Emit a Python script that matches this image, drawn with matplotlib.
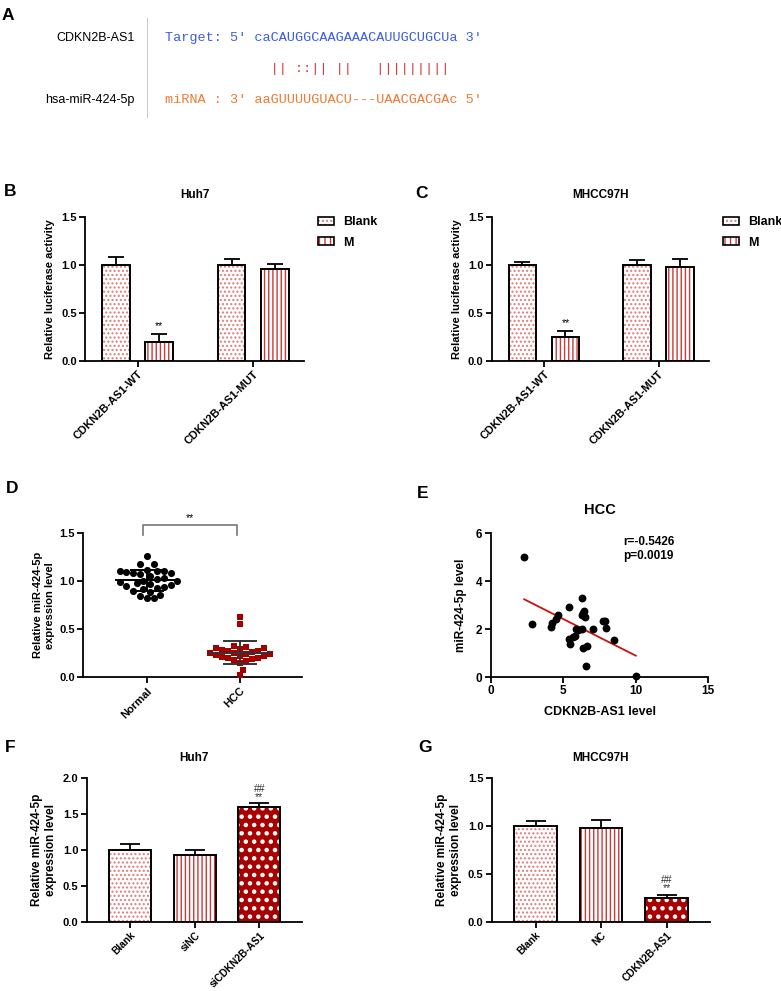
import numpy as np
import matplotlib
matplotlib.use("Agg")
import matplotlib.pyplot as plt
from matplotlib.patches import Patch
from matplotlib.legend_handler import HandlerTuple

plt.rcParams['font.family'] = ['Liberation Sans', 'DejaVu Sans']
plt.rcParams['font.weight'] = 'bold'
plt.rcParams['axes.labelweight'] = 'bold'
plt.rcParams['axes.titleweight'] = 'bold'
plt.rcParams['axes.linewidth'] = 1.3
plt.rcParams['xtick.major.width'] = 1.3
plt.rcParams['ytick.major.width'] = 1.3
plt.rcParams['xtick.major.size'] = 4
plt.rcParams['ytick.major.size'] = 4
plt.rcParams['hatch.linewidth'] = 1.0

# ---- A: binding site ----
gene_name = "CDKN2B-AS1"
mirna_name = "hsa-miR-424-5p"
target_line = "Target: 5' caCAUGGCAAGAAACAUUGCUGCUa 3'"
pair_line = "             || ::|| ||   |||||||||"
mirna_line = "miRNA : 3' aaGUUUUGUACU---UAACGACGAc 5'"

# ---- B / C: luciferase ----
luc_groups = ['CDKN2B-AS1-WT', 'CDKN2B-AS1-MUT']
luc_series = ['Blank', 'M']
huh7_luc_blank = [1.00, 1.00]
huh7_luc_blank_err = [0.08, 0.06]
huh7_luc_m = [0.20, 0.96]
huh7_luc_m_err = [0.08, 0.05]
mhcc_luc_blank = [1.00, 1.00]
mhcc_luc_blank_err = [0.03, 0.05]
mhcc_luc_m = [0.25, 0.98]
mhcc_luc_m_err = [0.06, 0.08]

# ---- D: tissue expression ----
tissue_groups = ['Normal', 'HCC']
normal_vals = [1.26, 1.18, 1.18, 1.12, 1.11, 1.11, 1.10, 1.09, 1.08, 1.08,
               1.07, 1.05, 1.03, 1.02, 1.00, 1.00, 0.99, 0.98, 0.97, 0.96,
               0.95, 0.94, 0.93, 0.92, 0.90, 0.89, 0.86, 0.84, 0.82, 0.82]
hcc_vals = [0.63, 0.55, 0.33, 0.31, 0.30, 0.30, 0.29, 0.28, 0.27, 0.27,
            0.26, 0.25, 0.25, 0.24, 0.24, 0.23, 0.22, 0.22, 0.21, 0.20,
            0.20, 0.19, 0.18, 0.17, 0.15, 0.08, 0.02]

# ---- E: correlation ----
cdkn_level = [2.31, 2.87, 4.13, 4.20, 4.49, 4.61, 5.37, 5.39, 5.46, 5.69,
              5.83, 5.87, 6.03, 6.26, 6.29, 6.33, 6.42, 6.29, 6.51, 6.33,
              6.65, 6.58, 7.07, 7.71, 7.85, 7.98, 8.49, 10.0]
mir_level = [5.02, 2.21, 2.07, 2.27, 2.41, 2.59, 2.91, 1.57, 1.38, 1.66,
             1.71, 2.02, 1.96, 2.02, 3.29, 2.69, 2.77, 2.58, 2.49, 1.20,
             1.30, 0.47, 1.99, 2.35, 2.34, 2.06, 1.53, 0.05]
corr_text = "r=-0.5426\np=0.0019"

# ---- F / G: miR-424-5p expression ----
huh7_groups = ['Blank', 'siNC', 'siCDKN2B-AS1']
huh7_expr = [1.00, 0.93, 1.60]
huh7_expr_err = [0.08, 0.07, 0.05]
mhcc_groups = ['Blank', 'NC', 'CDKN2B-AS1']
mhcc_expr = [1.00, 0.98, 0.25]
mhcc_expr_err = [0.05, 0.08, 0.03]

W, H = 781, 991
fig = plt.figure(figsize=(W / 100, H / 100), dpi=100)


def box(l, t, r, b):
    return [l / W, 1 - b / H, (r - l) / W, (b - t) / H]


def prism_axes(ax, size=8):
    ax.spines['top'].set_visible(False)
    ax.spines['right'].set_visible(False)
    ax.tick_params(axis='y', labelsize=size, direction='out', pad=2)
    ax.tick_params(axis='x', direction='out', pad=2)
    for lab in ax.get_xticklabels() + ax.get_yticklabels():
        lab.set_fontweight('bold')


BLANK = dict(face='white', hatch='....', hc='#e07a7a')
STRIPE = dict(face='white', hatch='||||', hc='#c83a3a')
SOLID = dict(face='#a80000', hatch='..', hc='white')


def bars(ax, x, h, err, width, style, capsize):
    b = ax.bar(x, h, width, color=style['face'], edgecolor=style['hc'],
               hatch=style['hatch'], linewidth=0, zorder=2)
    if style is SOLID:
        for p in b:
            if hasattr(p, 'set_hatch_linewidth'):
                p.set_hatch_linewidth(2.0)
    ax.bar(x, h, width, color='none', edgecolor='black', linewidth=1.4, zorder=3)
    ax.errorbar(x, h, yerr=[np.zeros(len(h)), err], fmt='none', ecolor='black',
                elinewidth=1.3, capsize=capsize, capthick=1.3, zorder=4)


def label(x, y, s):
    fig.text(x / W, 1 - y / H, s, fontsize=12.5, fontweight='bold', ha='center', va='center')


# ---- panel A ----
label(8, 15, 'A')
fig.text(135 / W, 1 - 38 / H, gene_name, fontsize=9, fontweight='normal', ha='right', va='center')
fig.text(135 / W, 1 - 100 / H, mirna_name, fontsize=9, fontweight='normal', ha='right', va='center')
fig.add_artist(plt.Line2D([147 / W, 147 / W], [1 - 18 / H, 1 - 117 / H], color='#cccccc', lw=0.8))
mono = dict(family='Liberation Mono', fontsize=9.7, fontweight='normal', ha='left', va='center')
fig.text(165 / W, 1 - 38 / H, target_line, color='#3d5ce6', **mono)
fig.text(165 / W, 1 - 69 / H, pair_line, color='#d63a3a', **mono)
fig.text(165 / W, 1 - 100 / H, mirna_line, color='#ee7a33', **mono)


# ---- panels B, C ----
def luc_panel(rect, title, blank, blank_err, m, m_err, leg_x):
    ax = fig.add_axes(box(*rect))
    xg = np.arange(len(luc_groups))
    bars(ax, xg - 0.1875, blank, blank_err, 0.24, BLANK, 6)
    bars(ax, xg + 0.1875, m, m_err, 0.24, STRIPE, 6)
    ax.text(xg[0] + 0.1875, m[0] + m_err[0] + 0.03, '**', ha='center', va='bottom',
            fontsize=7.5, fontweight='normal')
    ax.set_xlim(-0.456, 1.44)
    ax.set_ylim(0, 1.5)
    ax.set_yticks([0, 0.5, 1.0, 1.5])
    ax.set_xticks(xg)
    ax.set_xticklabels(luc_groups, rotation=45, ha='right', rotation_mode='anchor', fontsize=8)
    ax.set_ylabel('Relative luciferase activity', fontsize=8, labelpad=4)
    ax.set_title(title, fontsize=8.5, pad=14)
    prism_axes(ax)
    handles = [
        (Patch(facecolor='white', edgecolor=BLANK['hc'], hatch=BLANK['hatch'], lw=0),
         Patch(facecolor='none', edgecolor='black', lw=1.2)),
        (Patch(facecolor='white', edgecolor=STRIPE['hc'], hatch='|||', lw=0),
         Patch(facecolor='none', edgecolor='black', lw=1.2)),
    ]
    fig.legend(handles, luc_series, handler_map={tuple: HandlerTuple(ndivide=1)},
               loc='upper left', bbox_to_anchor=(leg_x / W, 1 - 216 / H), frameon=False,
               prop={'size': 9, 'weight': 'bold'}, handlelength=1.3, handleheight=0.6,
               handletextpad=0.7, labelspacing=0.7, borderaxespad=0, borderpad=0)
    return ax


label(10, 192, 'B')
luc_panel((85, 217, 304, 361), 'Huh7', huh7_luc_blank, huh7_luc_blank_err,
          huh7_luc_m, huh7_luc_m_err, 318)
label(421, 193, 'C')
luc_panel((491.7, 217, 709, 361), 'MHCC97H', mhcc_luc_blank, mhcc_luc_blank_err,
          mhcc_luc_m, mhcc_luc_m_err, 723)


# ---- panel D ----
def swarm_offsets(vals, ppx, ppy, diam):
    placed = []
    offs = np.zeros(len(vals))
    for i in np.argsort(vals):
        y = vals[i] * ppy
        found = 0.0
        for k in range(80):
            cands = [0.0] if k == 0 else [k * diam / 2, -k * diam / 2]
            hit = None
            for c in cands:
                if all((c - px) ** 2 + (y - py) ** 2 >= diam ** 2 for px, py in placed):
                    hit = c
                    break
            if hit is not None:
                found = hit
                break
        placed.append((found, y))
        offs[i] = found / ppx
    return offs


label(12, 488, 'D')
axd = fig.add_axes(box(83, 533, 302, 677.3))
ppx = (302 - 83) / (1.67 + 0.685)
ppy = (677.3 - 533) / 1.5
for i, (vals, mk, col, s, dm) in enumerate([(normal_vals, 'o', 'black', 26, 6.8),
                                             (hcc_vals, 's', '#a50000', 22, 6.0)]):
    vals = np.array(vals)
    xo = swarm_offsets(vals, ppx, ppy, dm)
    axd.scatter(i + xo, vals, marker=mk, s=s, color=col, linewidths=0, zorder=3)
    mu, sd = vals.mean(), vals.std(ddof=1)
    lc = 'black' if i == 0 else '#333333'
    axd.plot([i - 0.33, i + 0.33], [mu, mu], color=lc, lw=1.4, zorder=4)
    axd.plot([i - 0.17, i + 0.17], [mu + sd, mu + sd], color=lc, lw=1.4, zorder=4)
    axd.plot([i - 0.17, i + 0.17], [mu - sd, mu - sd], color=lc, lw=1.4, zorder=4)
    axd.plot([i, i], [mu - sd, mu + sd], color=lc, lw=1.4, zorder=4)
axd.plot([-0.04, -0.04, 0.97, 0.97], [1.48, 1.58, 1.58, 1.48], color='#777777', lw=1.2, clip_on=False)
axd.text(0.47, 1.60, '**', ha='center', va='bottom', fontsize=7.5, fontweight='normal')
axd.set_xlim(-0.685, 1.67)
axd.set_ylim(0, 1.5)
axd.set_yticks([0, 0.5, 1.0, 1.5])
axd.set_xticks([0, 1])
axd.set_xticklabels(tissue_groups, rotation=45, ha='right', rotation_mode='anchor', fontsize=8)
axd.set_ylabel('Relative miR-424-5p\nexpression level', fontsize=8, labelpad=3)
prism_axes(axd)

# ---- panel E ----
label(423, 494, 'E')
axe = fig.add_axes(box(490.7, 533.3, 708.3, 677))
axe.scatter(cdkn_level, mir_level, s=32, color='black', linewidths=0, zorder=3, clip_on=False)
k, b0 = np.polyfit(cdkn_level, mir_level, 1)
xl = np.array([min(cdkn_level), max(cdkn_level)])
axe.plot(xl, k * xl + b0, color='#cc1111', lw=1.3, zorder=2)
axe.text(0.61, 0.98, corr_text, transform=axe.transAxes, fontsize=8.5, fontweight='bold',
         ha='left', va='top', linespacing=1.25)
axe.set_xlim(0, 15)
axe.set_ylim(0, 6)
axe.set_xticks([0, 5, 10, 15])
axe.set_yticks([0, 2, 4, 6])
axe.set_xlabel('CDKN2B-AS1 level', fontsize=9, labelpad=6)
axe.set_ylabel('miR-424-5p level', fontsize=8.5, labelpad=6)
axe.set_title('HCC', fontsize=10.5, pad=14)
prism_axes(axe, 8.5)
axe.tick_params(axis='x', labelsize=8.5)
for lab in axe.get_xticklabels():
    lab.set_fontweight('bold')


# ---- panels F, G ----
def expr_panel(rect, title, groups, vals, errs, ymax, yticks):
    ax = fig.add_axes(box(*rect))
    x = np.arange(len(groups))
    for i, st in enumerate([BLANK, STRIPE, SOLID]):
        bars(ax, [x[i]], [vals[i]], [errs[i]], 0.65, st, 7.5)
    ax.text(x[2], vals[2] + errs[2] + 0.015, '##\n**', ha='center', va='bottom',
            fontsize=7.5, fontweight='normal', color='#333333', linespacing=0.75)
    ax.set_xlim(-0.67, 2.66)
    ax.set_ylim(0, ymax)
    ax.set_yticks(yticks)
    ax.set_xticks(x)
    ax.set_xticklabels(groups, rotation=45, ha='right', rotation_mode='anchor', fontsize=7.3)
    ax.set_ylabel('Relative miR-424-5p\nexpression level', fontsize=8.5, labelpad=4)
    ax.set_title(title, fontsize=8.5, pad=12)
    prism_axes(ax)
    return ax


label(10, 747, 'F')
expr_panel((86.7, 777.7, 302, 921.7), 'Huh7', huh7_groups, huh7_expr, huh7_expr_err,
           2.0, [0, 0.5, 1.0, 1.5, 2.0])
label(425, 748, 'G')
expr_panel((491.7, 777.7, 710, 921.7), 'MHCC97H', mhcc_groups, mhcc_expr, mhcc_expr_err,
           1.5, [0, 0.5, 1.0, 1.5])

fig.savefig('out.png', dpi=100)
